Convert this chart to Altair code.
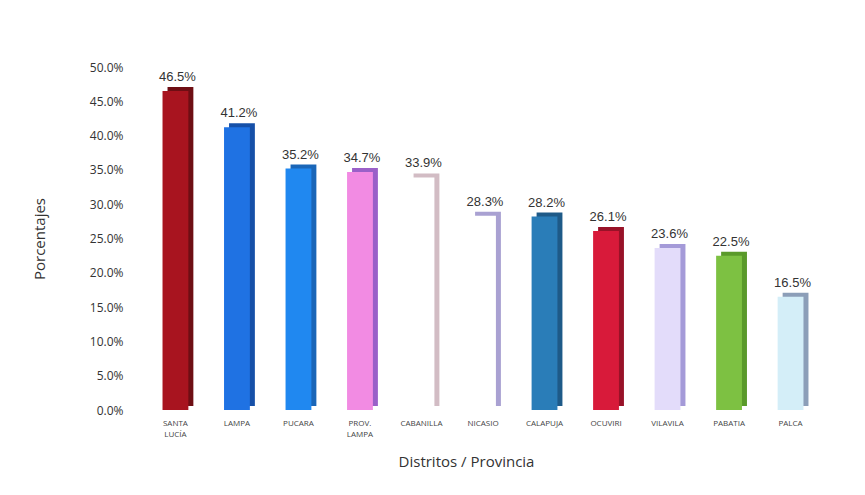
import altair as alt
import pandas as pd

categories = ["SANTA LUCÍA", "LAMPA", "PUCARA", "PROV. LAMPA", "CABANILLA", "NICASIO",
              "CALAPUJA", "OCUVIRI", "VILAVILA", "PABATIA", "PALCA"]
values = [0.465, 0.412, 0.352, 0.347, 0.339, 0.283, 0.282, 0.261, 0.236, 0.225, 0.165]
front_colors = ["#A8141F", "#1F72E3", "#2088F0", "#F28BE3", "#FFFFFF", "#FFFFFF",
                "#2A7DB8", "#D81A3A", "#E3DCFA", "#7DC142", "#D4EEF8"]
side_colors = ["#6E0E14", "#1650A8", "#1A66B8", "#9A60C8", "#D2BCC4", "#A9A1D2",
               "#1E5A88", "#981228", "#A49AD8", "#5A9A2A", "#8C9EB8"]

df = pd.DataFrame({"cat": categories, "val": values, "front": front_colors, "side": side_colors})

x = alt.X("cat:N", sort=categories, title="Distritos / Provincia",
          scale=alt.Scale(paddingInner=0.58, paddingOuter=0.48),
          axis=alt.Axis(labelAngle=0, labelExpr="split(datum.value, ' ')", labelFontSize=8,
                        labelColor="#444", labelFont="Open Sans", ticks=False, domain=False,
                        labelPadding=9, titleFontSize=15, titleFont="Open Sans",
                        titleColor="#333", titleFontWeight="normal", titlePadding=16,
                        titleX=333, labelLineHeight=11))
y = alt.Y("val:Q", title="Porcentajes",
          scale=alt.Scale(domain=[0, 0.5]),
          axis=alt.Axis(format=".1%", values=[i / 20 for i in range(11)], grid=False,
                        ticks=False, domain=False, labelFontSize=12, labelColor="#333",
                        labelFont="Open Sans", labelPadding=10, titleFontSize=15,
                        titleFont="Open Sans", titleColor="#333", titleFontWeight="normal",
                        titlePadding=42))

base = alt.Chart(df)
side = base.mark_bar(xOffset=5, yOffset=-4).encode(
    x=x, y=y, color=alt.Color("side:N", scale=None))
front = base.mark_bar().encode(
    x=x, y=y, color=alt.Color("front:N", scale=None))
labels = base.mark_text(dy=-14, xOffset=2, fontSize=13, font="Liberation Sans", color="#333").encode(
    x=x, y=y, text=alt.Text("val:Q", format=".1%"))

chart = alt.layer(side, front, labels).properties(
    width=700, height=343, background="white",
    padding={"left": 24, "top": 53, "right": 10, "bottom": 5}
).configure_view(strokeWidth=0, stroke="transparent")

chart.save("out.html", embed_options={"renderer": "svg", "actions": False})
